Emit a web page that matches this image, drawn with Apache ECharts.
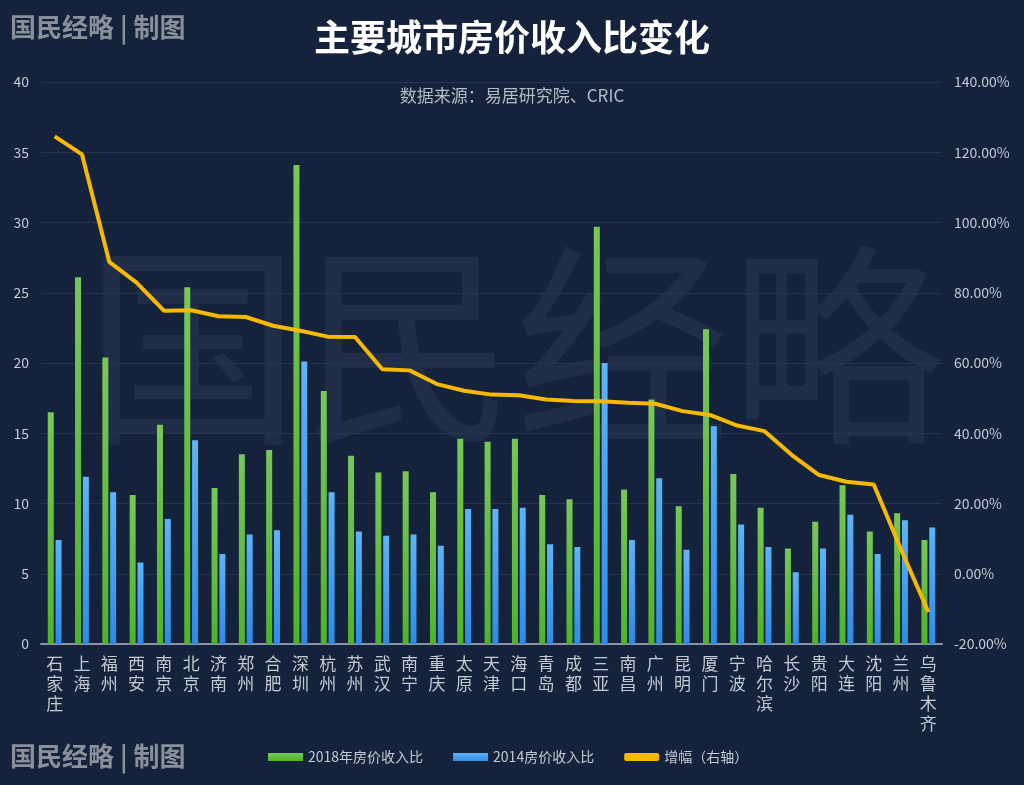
<!DOCTYPE html>
<html>
<head>
<meta charset="utf-8">
<script src="https://cdn.jsdelivr.net/npm/echarts@6/dist/echarts.min.js"></script>
<style>
  html, body { margin: 0; padding: 0; background: #15223b; }
  #main { width: 1024px; height: 785px; }
</style>
</head>
<body>
<div id="main"></div>
<script>
// 城市（按增幅排序）
var cities = ['石家庄', '上海', '福州', '西安', '南京', '北京', '济南', '郑州', '合肥', '深圳', '杭州', '苏州',
  '武汉', '南宁', '重庆', '太原', '天津', '海口', '青岛', '成都', '三亚', '南昌', '广州', '昆明', '厦门',
  '宁波', '哈尔滨', '长沙', '贵阳', '大连', '沈阳', '兰州', '乌鲁木齐'];
var ratio2018 = [16.5, 26.1, 20.4, 10.6, 15.6, 25.4, 11.1, 13.5, 13.8, 34.1, 18.0, 13.4,
  12.2, 12.3, 10.8, 14.6, 14.4, 14.6, 10.6, 10.3, 29.7, 11.0, 17.4, 9.8, 22.4,
  12.1, 9.7, 6.8, 8.7, 11.3, 8.0, 9.3, 7.4];
var ratio2014 = [7.4, 11.9, 10.8, 5.8, 8.9, 14.5, 6.4, 7.8, 8.1, 20.1, 10.8, 8.0,
  7.7, 7.8, 7.0, 9.6, 9.6, 9.7, 7.1, 6.9, 20.0, 7.4, 11.8, 6.7, 15.5,
  8.5, 6.9, 5.1, 6.8, 9.2, 6.4, 8.8, 8.3];
var growth = [124.5, 119.4, 88.8, 82.9, 74.9, 75.0, 73.3, 73.1, 70.6, 69.2, 67.5, 67.4,
  58.2, 57.9, 54.0, 52.1, 51.0, 50.8, 49.6, 49.2, 49.1, 48.7, 48.4, 46.3, 45.2,
  42.2, 40.6, 33.8, 28.1, 26.2, 25.4, 6.9, -10.9];

var labelColor = '#c3c9d2';
var chart = echarts.init(document.getElementById('main'));
chart.setOption({
  backgroundColor: '#15223b',
  textStyle: { fontFamily: 'Noto Sans CJK SC' },
  title: [
    {
      text: '主要城市房价收入比变化',
      left: 'center', top: 14,
      textStyle: { color: '#ffffff', fontSize: 36, fontWeight: 'bold' }
    },
    {
      text: '数据来源：易居研究院、CRIC',
      left: 'center', top: 82,
      textStyle: { color: '#b4bac4', fontSize: 17, fontWeight: 'normal' }
    }
  ],
  graphic: [
    {
      type: 'text', left: 85, top: 238, z: -1,
      style: { text: '国民经略', font: '215px "Noto Sans CJK SC"', fill: 'rgba(130,140,160,0.11)', letterSpacing: 10 }
    },
    {
      type: 'text', left: 10, top: 14,
      style: { text: '国民经略 | 制图', font: 'bold 26px "Noto Sans CJK SC"', fill: '#8a9099' }
    },
    {
      type: 'text', left: 10, top: 743,
      style: { text: '国民经略 | 制图', font: 'bold 26px "Noto Sans CJK SC"', fill: '#8a9099' }
    }
  ],
  legend: {
    bottom: 16, left: 263, itemGap: 30,
    itemWidth: 35, itemHeight: 8,
    textStyle: { color: labelColor, fontSize: 14 },
    data: [
      { name: '2018年房价收入比', icon: 'rect' },
      { name: '2014房价收入比', icon: 'rect' },
      { name: '增幅（右轴）', icon: 'roundRect' }
    ]
  },
  grid: { left: 41, right: 82, top: 82, bottom: 141 },
  xAxis: {
    type: 'category',
    data: cities,
    axisLine: { lineStyle: { color: '#8a93a2', width: 2 } },
    axisTick: { show: false },
    axisLabel: {
      interval: 0, color: labelColor, fontSize: 17, lineHeight: 20, margin: 10,
      formatter: function (v) { return v.split('').join('\n'); }
    }
  },
  yAxis: [
    {
      type: 'value', min: 0, max: 40, interval: 5,
      axisLine: { show: false }, axisTick: { show: false },
      axisLabel: { color: labelColor, fontSize: 14, margin: 12 },
      splitLine: { lineStyle: { color: '#26344d', width: 1 } }
    },
    {
      type: 'value', min: -20, max: 140, interval: 20,
      axisLine: { show: false }, axisTick: { show: false },
      axisLabel: { color: labelColor, fontSize: 14, margin: 12, formatter: function (v) { return v.toFixed(2) + '%'; } },
      splitLine: { show: false }
    }
  ],
  series: [
    {
      name: '2018年房价收入比', type: 'bar', data: ratio2018,
      barWidth: 6, barGap: '30%',
      itemStyle: {
        color: new echarts.graphic.LinearGradient(0, 0, 0, 1, [
          { offset: 0, color: '#79c659' }, { offset: 1, color: '#4db52a' }
        ])
      }
    },
    {
      name: '2014房价收入比', type: 'bar', data: ratio2014,
      barWidth: 6,
      itemStyle: {
        color: new echarts.graphic.LinearGradient(0, 0, 0, 1, [
          { offset: 0, color: '#5fb3f6' }, { offset: 1, color: '#2c8ce6' }
        ])
      }
    },
    {
      name: '增幅（右轴）', type: 'line', yAxisIndex: 1, data: growth,
      symbol: 'none', z: 5,
      lineStyle: { color: '#f6b900', width: 4 },
      itemStyle: { color: '#f6b900' }
    }
  ]
});
</script>
</body>
</html>
